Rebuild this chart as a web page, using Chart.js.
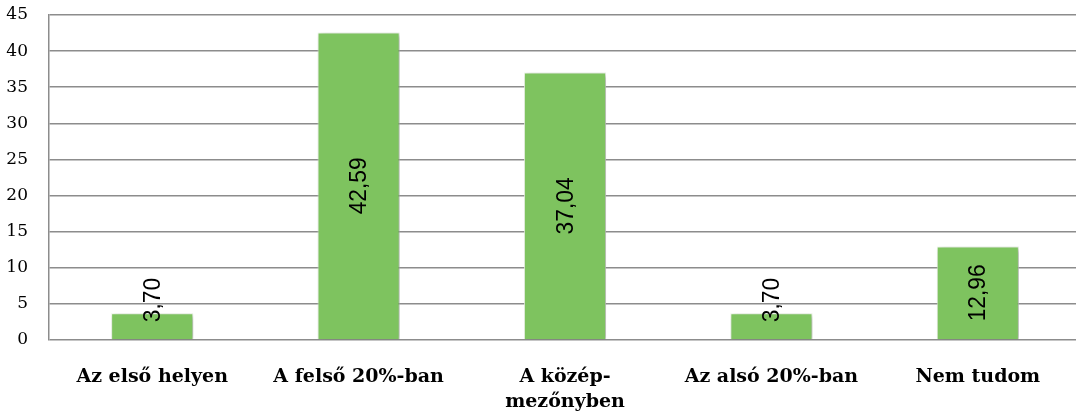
<!DOCTYPE html>
<html>
<head>
<meta charset="utf-8">
<script src="https://cdn.jsdelivr.net/npm/chart.js@4"></script>
<style>
  html, body { margin: 0; padding: 0; background: #fff; overflow: hidden; }
  #wrap { width: 1076px; height: 415px; overflow: hidden; position: relative; }
  #box { width: 1081px; height: 415px; position: absolute; left: 0; top: 0; }
</style>
</head>
<body>
<div id="wrap"><div id="box"><canvas id="c"></canvas></div></div>
<script>
// Answer categories (multi-line where the label wraps)
const categories = [
  'Az első helyen',
  'A felső 20%-ban',
  ['A közép-', 'mezőnyben'],
  'Az alsó 20%-ban',
  'Nem tudom'
];
// Share of responses, percent
const shares = [3.70, 42.59, 37.04, 3.70, 12.96];
// Value axis ticks
const yMin = 0;
const yMax = 45;
const yStep = 5;

const fmt = v => v.toFixed(2).replace('.', ',');

// Soft drop shadow behind the bars
const barShadow = {
  id: 'barShadow',
  beforeDatasetDraw(chart) {
    const ctx = chart.ctx;
    ctx.save();
    ctx.shadowColor = 'rgba(0,0,0,0.35)';
    ctx.shadowBlur = 5;
    ctx.shadowOffsetX = 2;
    ctx.shadowOffsetY = 2;
  },
  afterDatasetDraw(chart) {
    chart.ctx.restore();
  }
};

// Rotated value labels inside the bars
const valueLabels = {
  id: 'valueLabels',
  afterDatasetsDraw(chart) {
    const ctx = chart.ctx;
    const meta = chart.getDatasetMeta(0);
    const data = chart.data.datasets[0].data;
    const squeeze = 0.95;
    ctx.save();
    ctx.font = '24px "Liberation Sans", Arial, sans-serif';
    ctx.fillStyle = '#000';
    ctx.textAlign = 'center';
    ctx.textBaseline = 'middle';
    meta.data.forEach((bar, i) => {
      const text = fmt(data[i]);
      const half = ctx.measureText(text).width * squeeze / 2;
      const mid = (bar.y + bar.base) / 2;
      const cy = Math.min(mid, bar.base - half - 17);
      ctx.save();
      ctx.translate(bar.x + 1, cy);
      ctx.rotate(-Math.PI / 2);
      ctx.scale(squeeze, 1);
      ctx.fillText(text, 0, 0);
      ctx.restore();
    });
    ctx.restore();
  }
};

new Chart(document.getElementById('c'), {
  type: 'bar',
  data: {
    labels: categories,
    datasets: [{
      data: shares,
      backgroundColor: '#7EC35F',
      borderColor: 'rgba(235,245,230,0.9)',
      borderWidth: 1,
      barPercentage: 0.398,
      categoryPercentage: 1
    }]
  },
  options: {
    responsive: true,
    maintainAspectRatio: false,
    animation: false,
    events: [],
    layout: { padding: { top: 15, right: 0, left: 0, bottom: 0 } },
    plugins: {
      legend: { display: false },
      tooltip: { enabled: false }
    },
    scales: {
      x: {
        grid: { display: false, drawTicks: false },
        border: { display: false },
        ticks: {
          color: '#000',
          padding: 25,
          maxRotation: 0,
          autoSkip: false,
          font: { family: '"DejaVu Serif", serif', size: 19, weight: 'bold', lineHeight: 1.3 }
        },
        afterFit(s) { s.height = 75; s.paddingLeft = 0; s.paddingRight = 0; s.paddingTop = 0; s.paddingBottom = 0; }
      },
      y: {
        min: yMin,
        max: yMax,
        grid: { color: '#8c8c8c', lineWidth: 1.5, drawTicks: false },
        border: { display: true, color: '#8c8c8c', width: 1.5 },
        ticks: {
          stepSize: yStep,
          color: '#000',
          padding: 21,
          font: { family: '"DejaVu Serif", serif', size: 17 }
        },
        afterFit(s) { s.width = 49; s.paddingTop = 0; s.paddingBottom = 0; }
      }
    }
  },
  plugins: [barShadow, valueLabels]
});
</script>
</body>
</html>
